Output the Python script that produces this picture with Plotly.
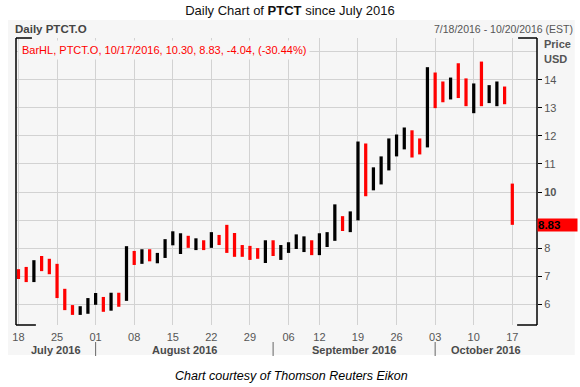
import plotly.graph_objects as go

# ---------------- data ----------------
dates = [
    "2016-07-18", "2016-07-19", "2016-07-20", "2016-07-21", "2016-07-22",
    "2016-07-25", "2016-07-26", "2016-07-27", "2016-07-28", "2016-07-29",
    "2016-08-01", "2016-08-02", "2016-08-03", "2016-08-04", "2016-08-05",
    "2016-08-08", "2016-08-09", "2016-08-10", "2016-08-11", "2016-08-12",
    "2016-08-15", "2016-08-16", "2016-08-17", "2016-08-18", "2016-08-19",
    "2016-08-22", "2016-08-23", "2016-08-24", "2016-08-25", "2016-08-26",
    "2016-08-29", "2016-08-30", "2016-08-31", "2016-09-01", "2016-09-02",
    "2016-09-06", "2016-09-07", "2016-09-08", "2016-09-09",
    "2016-09-12", "2016-09-13", "2016-09-14", "2016-09-15", "2016-09-16",
    "2016-09-19", "2016-09-20", "2016-09-21", "2016-09-22", "2016-09-23",
    "2016-09-26", "2016-09-27", "2016-09-28", "2016-09-29", "2016-09-30",
    "2016-10-03", "2016-10-04", "2016-10-05", "2016-10-06", "2016-10-07",
    "2016-10-10", "2016-10-11", "2016-10-12", "2016-10-13", "2016-10-14",
    "2016-10-17",
]

highs = [
    7.25, 7.33, 7.57, 7.72, 7.62,
    7.44, 6.55, 5.97, 5.93, 6.22,
    6.40, 6.26, 6.41, 6.41, 8.07,
    7.90, 7.96, 7.96, 7.83, 8.32,
    8.60, 8.53, 8.44, 8.35, 8.28,
    8.57, 8.47, 8.83, 8.54, 8.11,
    8.08, 8.00, 8.28, 8.28, 8.11,
    8.21, 8.49, 8.42, 8.28,
    8.53, 8.57, 9.56, 9.14, 9.31,
    11.80, 11.73, 10.88, 11.27, 11.91,
    12.05, 12.30, 12.20, 11.91, 14.45,
    14.26, 13.94, 14.08, 14.59, 14.05,
    13.87, 14.65, 13.81, 13.94, 13.76,
    10.30,
]

lows = [
    6.90, 6.79, 6.79, 7.18, 7.07,
    6.22, 5.79, 5.62, 5.62, 5.66,
    5.98, 5.73, 5.77, 5.91, 6.12,
    7.40, 7.44, 7.53, 7.46, 7.65,
    8.10, 7.79, 8.01, 7.93, 7.93,
    8.01, 8.11, 7.83, 7.69, 7.69,
    7.58, 7.62, 7.47, 7.72, 7.58,
    7.83, 7.97, 7.86, 7.75,
    7.75, 8.04, 8.26, 8.61, 8.57,
    8.99, 9.85, 10.06, 10.27, 10.77,
    11.27, 11.52, 11.23, 11.34, 11.59,
    12.99, 13.20, 13.30, 13.35, 13.06,
    12.81, 13.06, 13.17, 13.06, 13.13,
    8.83,
]

direction = [
    "dn", "dn", "up", "dn", "dn",
    "dn", "dn", "dn", "up", "up",
    "up", "dn", "up", "dn", "up",
    "dn", "up", "dn", "up", "up",
    "up", "up", "dn", "up", "dn",
    "up", "dn", "dn", "dn", "dn",
    "dn", "dn", "up", "dn", "up",
    "up", "up", "up", "dn",
    "up", "up", "up", "dn", "up",
    "up", "dn", "up", "up", "up",
    "up", "up", "dn", "dn", "up",
    "dn", "dn", "up", "dn", "dn",
    "up", "dn", "up", "up", "dn",
    "dn",
]

price_ticks = [6, 7, 8, 9, 10, 11, 12, 13, 14]
month_names = {7: "July", 8: "August", 9: "September", 10: "October"}

legend_text = "BarHL, PTCT.O, 10/17/2016, 10.30, 8.83, -4.04, (-30.44%)"
last_low_label = "8.83"

# ---------------- derived ----------------
import datetime as dt

d_objs = [dt.date.fromisoformat(d) for d in dates]
idx = list(range(len(dates)))
colors = ["#ff0000" if s == "dn" else "#000000" for s in direction]
spans = [h - l for h, l in zip(highs, lows)]

# weekly ticks: first trading day of each week
week_ticks, week_text = [], []
prev_week = None
for i, d in enumerate(d_objs):
    wk = d.isocalendar()[1]
    if wk != prev_week:
        week_ticks.append(i)
        week_text.append(f"{d.day:02d}")
        prev_week = wk

# month starts
month_starts = []
prev_m = None
for i, d in enumerate(d_objs):
    if d.month != prev_m:
        month_starts.append((i, d.month, d.year))
        prev_m = d.month

X0, X1 = -0.32, 67.2
Y0, Y1 = 5.26, 15.49

FONT = "Liberation Sans"
GRAY = "#555555"

fig = go.Figure()
fig.add_trace(go.Bar(
    x=idx, y=spans, base=lows,
    marker=dict(color=colors, line=dict(width=0)),
    width=0.42, hoverinfo="skip",
))

# geometry helpers (pixel -> paper)
L, R, T, B = 13, 43, 38, 62
W, H = 580, 387
PW, PH = W - L - R, H - T - B


def px(xp):
    return (xp - L) / PW


def py(yp):
    return (H - B - yp) / PH


shapes = []
# panel background
shapes.append(dict(type="rect", xref="paper", yref="paper",
                   x0=px(5), x1=px(575), y0=py(355), y1=py(20),
                   fillcolor="#f6f6f6", line=dict(width=0), layer="below"))
# frame
frame = dict(color="#000000", width=1.5)
shapes += [
    dict(type="line", xref="paper", yref="paper", x0=0, x1=0, y0=0, y1=1, line=frame),
    dict(type="line", xref="paper", yref="paper", x0=1, x1=1, y0=0, y1=1, line=frame),
    dict(type="line", xref="paper", yref="paper", x0=0, x1=px(29), y0=1, y1=1, line=frame),
    dict(type="line", xref="paper", yref="paper", x0=px(518), x1=1, y0=1, y1=1, line=frame),
    dict(type="line", xref="paper", yref="paper", x0=0, x1=px(33), y0=0, y1=0, line=frame),
    dict(type="line", xref="paper", yref="paper", x0=px(517), x1=1, y0=0, y1=0, line=frame),
]
# month separators
for i, m, y in month_starts[1:]:
    shapes.append(dict(type="line", xref="x", yref="paper", x0=i, x1=i,
                       y0=py(342), y1=py(356),
                       line=dict(color="#666666", width=1)))

annotations = []
# month labels
bounds = [X0] + [s[0] for s in month_starts[1:]] + [X1]
for k, (i, m, y) in enumerate(month_starts):
    c = (bounds[k] + bounds[k + 1]) / 2
    annotations.append(dict(xref="x", yref="paper", x=c, y=py(350),
                            text=f"<b>{month_names[m]} {y}</b>", showarrow=False,
                            xanchor="center", yanchor="middle",
                            font=dict(family=FONT, size=11, color="#4a4a4a")))

annotations += [
    dict(xref="paper", yref="paper", x=px(10), y=py(29), xanchor="left", yanchor="middle",
         text="<b>Daily PTCT.O</b>", showarrow=False,
         font=dict(family=FONT, size=11.5, color="#444444")),
    dict(xref="paper", yref="paper", x=px(575), y=py(29), xanchor="right", yanchor="middle",
         text="7/18/2016 - 10/20/2016 (EST)", showarrow=False,
         font=dict(family=FONT, size=10.5, color=GRAY)),
    dict(xref="paper", yref="paper", x=px(542), y=py(44), xanchor="left", yanchor="middle",
         text="<b>Price</b>", showarrow=False,
         font=dict(family=FONT, size=11, color=GRAY)),
    dict(xref="paper", yref="paper", x=px(542), y=py(59), xanchor="left", yanchor="middle",
         text="<b>USD</b>", showarrow=False,
         font=dict(family=FONT, size=11, color=GRAY)),
    dict(xref="paper", yref="paper", x=0, y=1, xanchor="left", yanchor="top",
         xshift=2, yshift=-2, borderpad=3, bgcolor="#f6f6f6",
         text=legend_text, showarrow=False,
         font=dict(family=FONT, size=11, color="#ff0000")),
    dict(xref="paper", yref="y", x=1, y=lows[-1], xanchor="left", yanchor="middle",
         text=f"<b>{last_low_label}</b>", showarrow=False, bgcolor="#ff0000",
         width=39, height=12, align="left", borderpad=0,
         font=dict(family=FONT, size=11.5, color="#000000")),
    dict(xref="paper", yref="paper", x=px(290), y=py(376), xanchor="center", yanchor="middle",
         text="<i>Chart courtesy of Thomson Reuters Eikon</i>", showarrow=False,
         font=dict(family=FONT, size=12.5, color="#000000")),
]

ytext = [("<b>%d</b>" % v) if v == 10 else ("" if v == 9 else str(v)) for v in price_ticks]

fig.update_layout(
    width=W, height=H,
    margin=dict(l=L, r=R, t=T, b=B),
    paper_bgcolor="#ffffff",
    plot_bgcolor="#f6f6f6",
    showlegend=False,
    hovermode=False,
    title=dict(text="Daily Chart of <b>PTCT</b> since July 2016",
               x=0.5, xref="container", xanchor="center",
               y=1 - 10 / H, yref="container", yanchor="middle",
               font=dict(family=FONT, size=13, color="#111111")),
    xaxis=dict(range=[X0, X1], tickvals=week_ticks, ticktext=week_text,
               showgrid=True, gridcolor="#d2d2d2", gridwidth=1,
               zeroline=False, showline=False, ticks="",
               ticklabelstandoff=4,
               tickfont=dict(family=FONT, size=11, color=GRAY)),
    yaxis=dict(range=[Y0, Y1], side="right", tickvals=price_ticks, ticktext=ytext,
               showgrid=True, gridcolor="#d2d2d2", gridwidth=1,
               zeroline=False, showline=False,
               ticks="outside", ticklen=4, tickcolor="#000000",
               tickfont=dict(family=FONT, size=11, color=GRAY),
               minor=dict(tickvals=[15], showgrid=True, gridcolor="#d2d2d2", ticks="")),
    shapes=shapes,
    annotations=annotations,
)

fig.write_html(
    "out.html",
    config={"displayModeBar": False, "staticPlot": True},
    post_script="document.body.style.margin='0';document.body.style.overflow='hidden';",
)
